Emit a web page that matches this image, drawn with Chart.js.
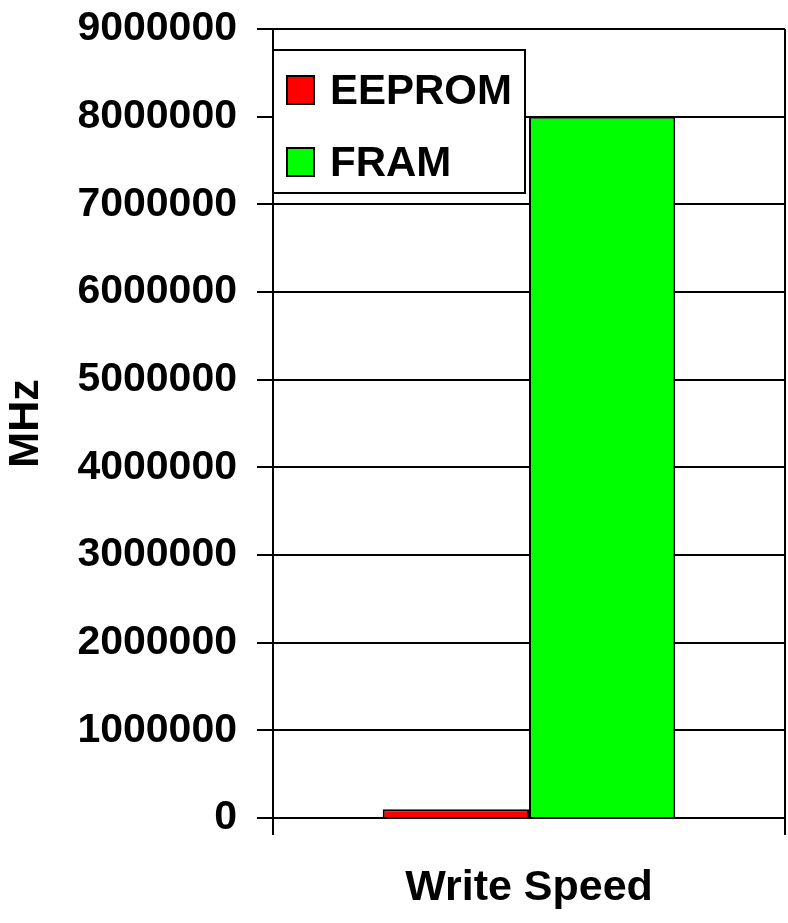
<!DOCTYPE html>
<html>
<head>
<meta charset="utf-8">
<script src="https://cdn.jsdelivr.net/npm/chart.js@4/dist/chart.umd.min.js"></script>
<style>
  body { margin: 0; background: #fff; }
  canvas { display: block; }
</style>
</head>
<body>
<canvas id="chart" width="788" height="923"></canvas>
<script>
const categories = ['Write Speed'];
const eepromValues = [100000];
const framValues = [8000000];
const seriesNames = ['EEPROM', 'FRAM'];
const yTickStep = 1000000;
const yMax = 9000000;

const FONT = '"Liberation Sans", Arial, sans-serif';

// legend box drawn inside the plot, top-left, like the Excel original
const innerLegend = {
  id: 'innerLegend',
  afterDatasetsDraw(chart) {
    const ctx = chart.ctx;
    const area = chart.chartArea;
    const x = area.left, y = area.top + 21, w = 252, h = 143;
    ctx.save();
    ctx.fillStyle = '#fff';
    ctx.fillRect(x, y, w, h);
    ctx.lineWidth = 2;
    ctx.strokeStyle = '#000';
    ctx.strokeRect(x, y, w, h);
    ctx.font = 'bold 42px ' + FONT;
    ctx.textBaseline = 'middle';
    chart.data.datasets.forEach((ds, i) => {
      const cy = y + 40 + i * 72;
      ctx.fillStyle = ds.backgroundColor;
      ctx.fillRect(x + 14, cy - 14, 27, 28);
      ctx.strokeRect(x + 14, cy - 14, 27, 28);
      ctx.fillStyle = '#000';
      ctx.fillText(ds.label, x + 57, cy + 2);
    });
    ctx.restore();
  }
};

new Chart(document.getElementById('chart'), {
  type: 'bar',
  data: {
    labels: categories,
    datasets: [
      { label: seriesNames[0], data: eepromValues, backgroundColor: '#ff0000', borderColor: '#000', borderWidth: 2 },
      { label: seriesNames[1], data: framValues, backgroundColor: '#00ff00', borderColor: '#000', borderWidth: 2 }
    ]
  },
  options: {
    responsive: false,
    animation: false,
    layout: { padding: { top: 29, right: 3, left: 0, bottom: 0 } },
    datasets: { bar: { categoryPercentage: 2 / 3.5, barPercentage: 1 } },
    plugins: { legend: { display: false }, tooltip: { enabled: false } },
    scales: {
      x: {
        grid: { offset: true, color: '#000', lineWidth: 2, tickLength: 17 },
        border: { color: '#000', width: 2 },
        ticks: { color: '#000', font: { family: FONT, size: 43, weight: 'bold' }, padding: 27 },
        afterFit(scale) { scale.height = 105; }
      },
      y: {
        min: 0,
        max: yMax,
        grid: { color: '#000', lineWidth: 2, tickLength: 16 },
        border: { color: '#000', width: 2 },
        ticks: {
          stepSize: yTickStep,
          color: '#000',
          padding: 20,
          font: { family: FONT, size: 41, weight: 'bold' },
          callback: v => String(v)
        },
        title: { display: true, text: 'MHz', color: '#000', padding: 0, font: { family: FONT, size: 43, weight: 'bold' } },
        afterFit(scale) {
          scale.width = 273;
          scale.paddingTop = 0;
          scale.paddingBottom = 0;
        }
      }
    }
  },
  plugins: [innerLegend]
});
</script>
</body>
</html>
